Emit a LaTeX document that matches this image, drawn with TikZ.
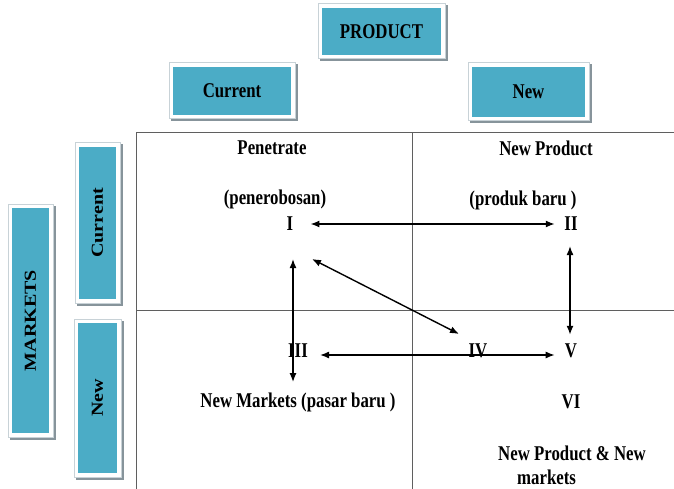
\documentclass[tikz,border=0pt]{standalone}
\usepackage{fontspec}
\setmainfont{Liberation Serif}[FakeStretch=0.8]
\newfontfamily\uprightserif{Liberation Serif}
\usepackage{graphicx}
\usetikzlibrary{arrows.meta}

\definecolor{tileblue}{RGB}{75,172,198}
\definecolor{tileedge}{RGB}{200,210,215}
\definecolor{tileshadow}{RGB}{135,148,155}
\definecolor{gridgray}{RGB}{95,95,95}

% rotated tile caption: narrow glyphs across, full length along the tile
\newcommand{\sidecaption}[1]{\scalebox{0.84}[1]{\rotatebox{90}{\uprightserif\bfseries #1}}}

\tikzset{
  tile/.style={inner sep=0pt, outer sep=0pt, fill=tileblue,
    font=\fontsize{21}{23}\selectfont\bfseries,
    preaction={draw=tileshadow, fill=tileshadow, line width=9pt,
               transform canvas={shift={(2pt,-2pt)}}},
    preaction={draw=tileedge, line width=9pt},
    preaction={draw=white, line width=7pt}},
  txt/.style={inner sep=1pt, font=\fontsize{21}{24}\selectfont\bfseries},
  gridline/.style={draw=gridgray, line width=1pt},
  link/.style={line width=1.4pt,
    {Latex[length=9pt,width=7pt]}-{Latex[length=9pt,width=7pt]}}
}

\begin{document}
\begin{tikzpicture}[x=1pt,y=-1pt]
  \useasboundingbox (0,0) rectangle (674,489);

  % matrix frame
  \draw[gridline] (136,133) -- (674,133);
  \draw[gridline] (136,133) -- (136,489);
  \draw[gridline] (412,133) -- (412,489);
  \draw[gridline] (136,310) -- (674,310);

  % header tiles
  \node[tile, minimum width=119pt, minimum height=47pt] (product) at (381.5,31.5) {PRODUCT};
  \node[tile, minimum width=118pt, minimum height=48pt] (pcur) at (232,91) {Current};
  \node[tile, minimum width=113pt, minimum height=50pt] (pnew) at (528.5,92) {New};
  \node[tile, minimum width=37pt, minimum height=225pt, font=\fontsize{20}{22}\selectfont] (markets) at (30.5,320.5) {\sidecaption{MARKETS}};
  \node[tile, minimum width=37pt, minimum height=152pt, font=\fontsize{20}{22}\selectfont] (mcur) at (97.5,223) {\sidecaption{Current}};
  \node[tile, minimum width=39pt, minimum height=150pt, font=\fontsize{20}{22}\selectfont] (mnew) at (97.5,398) {\sidecaption{New}};

  % cell texts
  \node[txt] (pen)  at (272,148) {Penetrate};
  \node[txt] (penb) at (275,199) {(penerobosan)};
  \node[txt] (npr)  at (546,148) {New Product};
  \node[txt] (nprb) at (523,200) {(produk baru )};
  \node[txt] (nmk)  at (298,402) {New Markets (pasar baru )};
  \node[txt, align=left, anchor=west, inner sep=0pt] (npm) at (498,465)
       {New Product \& New\\\hspace*{19pt}markets};

  % roman numerals
  \node[txt] (I)   at (290,224) {I};
  \node[txt] (II)  at (571,224) {II};
  \node[txt] (III) at (298,351) {III};
  \node[txt] (IV)  at (478,351) {IV};
  \node[txt] (V)   at (571,351) {V};
  \node[txt] (VI)  at (571,402) {VI};

  % connectors
  \draw[link] ([xshift=16pt]I.east) -- ([xshift=-8.5pt]II.west);
  \draw[link] ([xshift=-1pt,yshift=-14pt]II.south) -- ([xshift=-1pt,yshift=8pt]V.north);
  \draw[link] ([xshift=11pt,yshift=-4pt]III.east) -- ([xshift=-9pt,yshift=-4pt]V.west);
  \draw[link] ([xshift=3pt,yshift=-27pt]I.south) -- ([xshift=-5pt,yshift=-23pt]III.south);
  \draw[link] ([xshift=22pt,yshift=-35pt]I.center) -- ([xshift=-19pt,yshift=17pt]IV.center);
\end{tikzpicture}
\end{document}
